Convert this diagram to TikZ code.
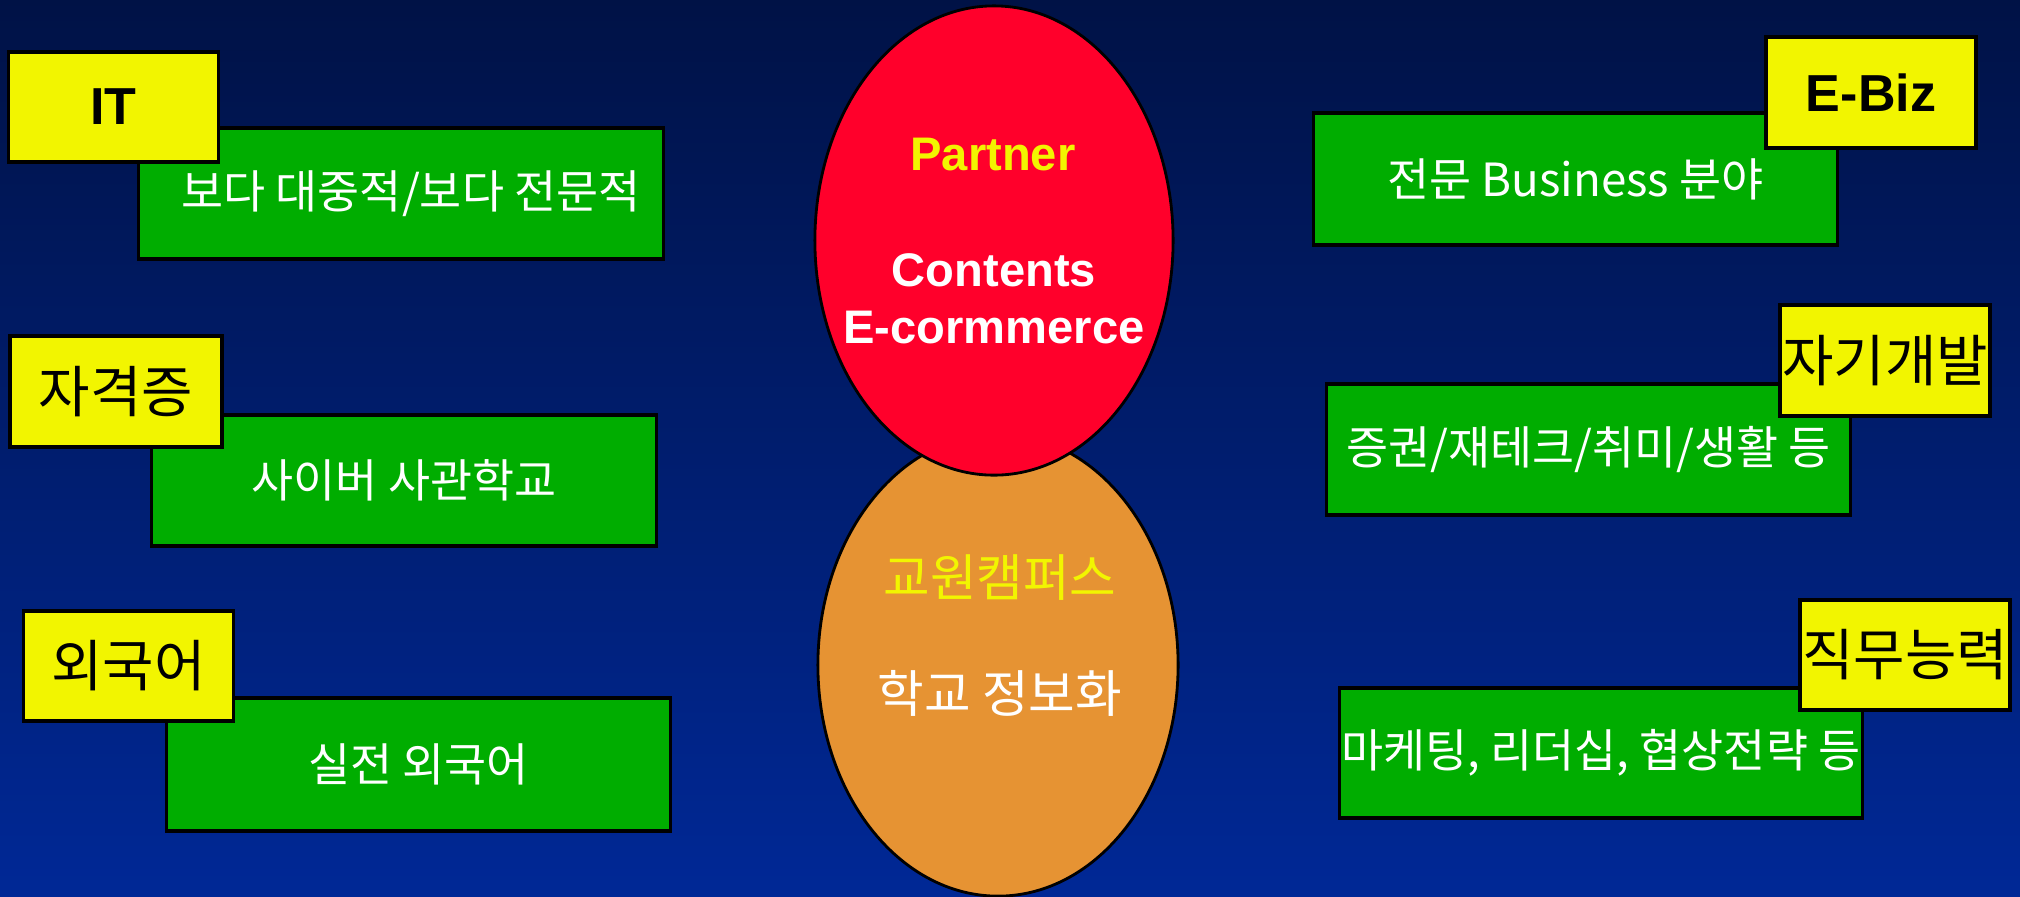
\documentclass[tikz,border=0pt]{standalone}
\usepackage{fontspec}
\setmainfont{Liberation Sans}
\newfontfamily\kr{Noto Sans CJK KR}
\usetikzlibrary{shapes.geometric}
\definecolor{bgtop}{RGB}{0,18,70}
\definecolor{bgbot}{RGB}{0,40,150}
\definecolor{lblyellow}{RGB}{242,245,0}
\definecolor{boxgreen}{RGB}{0,173,0}
\definecolor{eggred}{RGB}{255,0,43}
\definecolor{eggorange}{RGB}{230,147,51}
\tikzset{
  greenbox/.style={draw=black, line width=0.9pt, fill=boxgreen, inner sep=0pt,
    text=white, font=\kr\fontsize{13pt}{15pt}\selectfont},
  yellowbox/.style={draw=black, line width=0.9pt, fill=lblyellow, inner sep=0pt,
    minimum width=2.1cm, minimum height=1.1cm, text=black},
  lblen/.style={font=\bfseries\fontsize{14.8pt}{16pt}\selectfont},
  lblkr/.style={font=\kr\fontsize{15.9pt}{17pt}\selectfont},
  egg/.style={draw=black, line width=0.8pt, ellipse, inner sep=0pt},
  eggen/.style={font=\bfseries\fontsize{13.4pt}{15pt}\selectfont},
  eggkr/.style={font=\kr\fontsize{14.4pt}{16pt}\selectfont}
}
\begin{document}
\begin{tikzpicture}[x=0.01cm,y=-0.01cm]
\shade[top color=bgtop, bottom color=bgbot] (0,0) rectangle (2020,896);
\useasboundingbox (0,0) rectangle (2020,896);

% ellipses
\node[egg, fill=eggorange, minimum width=3.6cm, minimum height=4.62cm] (orange) at (998,665) {};
\node[egg, fill=eggred, minimum width=3.58cm, minimum height=4.69cm] (red) at (994,240.5) {};
\node[eggen, text=lblyellow] (partner) at (993,155) {Partner};
\node[eggen, text=white] (contents) at (994,270) {Contents};
\node[eggen, text=white] (ecom) at (994,328) {E-cormmerce};
\node[eggkr, text=lblyellow] (kyowon) at (1000,578) {교원캠퍼스};
\node[eggkr, text=white] (school) at (1000,693) {학교 정보화};

% left side
\node[greenbox, minimum width=5.24cm, minimum height=1.31cm] (g1) at (401,193.5) {\hspace{0.2cm}보다 대중적/보다 전문적};
\node[yellowbox, lblen] (it) at (113.5,107) {IT};
\node[greenbox, minimum width=5.04cm, minimum height=1.31cm] (g2) at (404,480.5) {사이버 사관학교};
\node[yellowbox, lblkr, minimum width=2.12cm, minimum height=1.11cm] (cert) at (116,391.5) {자격증};
\node[greenbox, minimum width=5.03cm, minimum height=1.33cm] (g3) at (418.5,764.5) {실전 외국어};
\node[yellowbox, lblkr] (lang) at (128.5,666) {외국어};

% right side
\node[greenbox, minimum width=5.23cm, minimum height=1.32cm] (r1) at (1575.5,179) {전문 Business 분야};
\node[yellowbox, lblen, minimum height=1.11cm] (ebiz) at (1871,92.5) {E-Biz};
\node[greenbox, minimum width=5.23cm, minimum height=1.31cm] (r2) at (1588.5,449.5) {증권/재테크/취미/생활 등};
\node[yellowbox, lblkr, minimum height=1.11cm] (self) at (1885,360.5) {자기개발};
\node[greenbox, minimum width=5.22cm, minimum height=1.30cm] (r3) at (1601,753) {마케팅, 리더십, 협상전략 등};
\node[yellowbox, lblkr] (job) at (1905,655) {직무능력};
\end{tikzpicture}
\end{document}
